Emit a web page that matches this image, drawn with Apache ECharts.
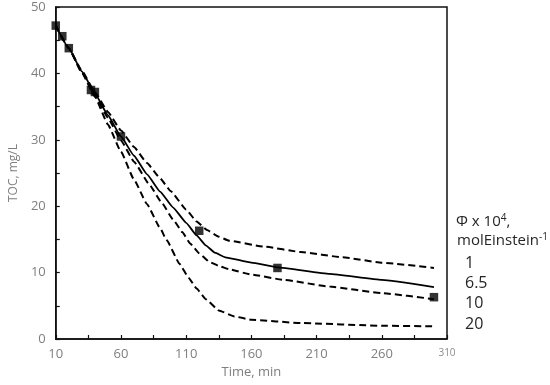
<!DOCTYPE html>
<html>
<head>
<meta charset="utf-8">
<script src="https://cdn.jsdelivr.net/npm/echarts@6/dist/echarts.min.js"></script>
<style>html,body{margin:0;padding:0;background:#fff}#c{width:550px;height:385px}</style>
</head>
<body>
<div id="c"></div>
<script>
// Measured TOC (mg/L) vs time (min)
const expPoints = [[10,47.2],[15,45.6],[20,43.8],[37,37.5],[40,37.2],[60,30.5],[120,16.3],[180,10.7],[300,6.3]];
// Model curves for different quantum yields
const model1 = [[10,47.2],[20,43.8],[30,40.4],[40,37.2],[50,34.2],[60,31.4],[70,28.9],[80,26.5],[90,24.2],[98,22.3],[110,19.5],[118,17.7],[126,16.4],[135,15.4],[143,14.8],[170,13.9],[198,13.1],[230,12.3],[260,11.5],[300,10.7]];
const model65 = [[10,47.2],[20,43.8],[30,40.3],[40,37.0],[50,33.7],[60,30.5],[70,27.6],[80,24.8],[90,22.2],[100,19.8],[110,17.5],[118,15.6],[125,14.1],[132,13.0],[140,12.3],[160,11.5],[180,10.8],[220,9.8],[260,8.9],[300,7.8]];
const model10 = [[10,47.2],[20,43.8],[30,40.2],[40,36.8],[50,33.3],[60,29.9],[70,26.7],[82,23.2],[91,20.6],[100,18.0],[107,16.1],[113,14.4],[120,12.9],[128,11.6],[135,11.0],[143,10.5],[160,9.7],[185,8.9],[220,7.9],[260,6.9],[300,6.0]];
const model20 = [[10,47.2],[20,43.8],[30,40.1],[40,36.5],[50,32.3],[60,28.2],[70,24.0],[80,20.3],[90,16.7],[95,14.9],[105,11.3],[112,9.2],[118,7.6],[125,6.0],[135,4.3],[147,3.4],[160,2.9],[198,2.4],[260,2.0],[300,1.9]];
const legendLabels = ['1','6.5','10','20'];
const xName = 'Time, min';
const yName = 'TOC, mg/L';

const chart = echarts.init(document.getElementById('c'));
const dash = [7,4];
function lineSeries(data, type, width){
  return {type:'line', data:data, showSymbol:false, symbol:'none', smooth:0.12, smoothMonotone:'x',
    lineStyle:{color:'#000', width:width, type:type}, z:2, silent:true};
}
const axisFont = '"Open Sans", sans-serif';
chart.setOption({
  animation:false,
  backgroundColor:'#fff',
  grid:{left:46, right:103, top:7, bottom:46, show:true, borderColor:'#111', borderWidth:1.5, backgroundColor:'transparent'},
  xAxis:{type:'value', min:10, max:310, interval:25,
    name:xName, nameLocation:'middle', nameGap:25,
    nameTextStyle:{color:'#7f7f7f', fontSize:13, fontFamily:axisFont},
    axisLine:{show:true, onZero:false, lineStyle:{color:'#111', width:1.5}},
    axisTick:{show:true, inside:true, length:4, lineStyle:{color:'#111', width:1.2}},
    splitLine:{show:false},
    axisLabel:{color:'#7f7f7f', fontSize:13, fontFamily:axisFont, margin:9,
      formatter:function(v){ if((v-10)%50!==0) return ''; if(v===310) return '{s|310}'; return String(v);},
      rich:{s:{fontSize:10, color:'#8c8c8c', fontFamily:axisFont}}}
  },
  yAxis:{type:'value', min:0, max:50, interval:5,
    name:yName, nameLocation:'middle', nameGap:29, nameRotate:90,
    nameTextStyle:{color:'#7f7f7f', fontSize:12, fontFamily:axisFont},
    axisLine:{show:true, onZero:false, lineStyle:{color:'#111', width:1.5}},
    axisTick:{show:true, inside:true, length:4, lineStyle:{color:'#111', width:1.2}},
    splitLine:{show:false},
    axisLabel:{color:'#7f7f7f', fontSize:13, fontFamily:axisFont, margin:10,
      formatter:function(v){ return v%10===0 ? String(v) : ''; }}
  },
  series:[
    lineSeries(model1, dash, 2),
    lineSeries(model65, 'solid', 1.8),
    lineSeries(model10, dash, 2),
    lineSeries(model20, dash, 2),
    {type:'scatter', data:expPoints, symbol:'rect', symbolSize:8.5, itemStyle:{color:'#000'}, z:3, silent:true}
  ],
  graphic:[
    {type:'text', left:456, top:213, style:{text:'Φ x 10{sup|4},', fill:'#262626', font:'15px '+axisFont,
      rich:{sup:{fontSize:10, verticalAlign:'top', padding:[0,0,8,0], fill:'#262626', fontFamily:axisFont}}}},
    {type:'text', left:457, top:232, style:{text:'molEinstein{sup|-1}', fill:'#262626', font:'15px '+axisFont,
      rich:{sup:{fontSize:10, verticalAlign:'top', padding:[0,0,8,0], fill:'#262626', fontFamily:axisFont}}}},
    {type:'text', left:465, top:255, style:{text:legendLabels[0], fill:'#262626', font:'16px '+axisFont}},
    {type:'text', left:465, top:275, style:{text:legendLabels[1], fill:'#262626', font:'16px '+axisFont}},
    {type:'text', left:465, top:295, style:{text:legendLabels[2], fill:'#262626', font:'16px '+axisFont}},
    {type:'text', left:465, top:316, style:{text:legendLabels[3], fill:'#262626', font:'16px '+axisFont}}
  ]
});
</script>
</body>
</html>
